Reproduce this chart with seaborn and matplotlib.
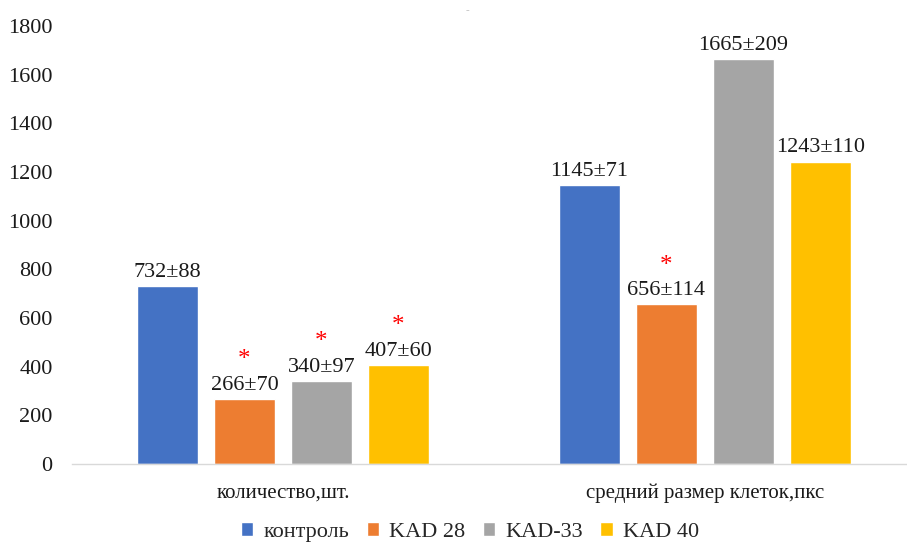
import pandas as pd
import matplotlib.pyplot as plt
import seaborn as sns

# data
categories = ['количество,шт.', 'средний размер клеток,пкс']
groups = ['контроль', 'KAD 28', 'KAD-33', 'KAD 40']
means = {
    'контроль': [732, 1145],
    'KAD 28': [266, 656],
    'KAD-33': [340, 1665],
    'KAD 40': [407, 1243],
}
errors = {
    'контроль': [88, 71],
    'KAD 28': [70, 114],
    'KAD-33': [97, 209],
    'KAD 40': [60, 110],
}
# significance marks (red asterisk above the label)
signif = {
    'контроль': [False, False],
    'KAD 28': [True, True],
    'KAD-33': [True, False],
    'KAD 40': [True, False],
}
colors = ['#4472C4', '#ED7D31', '#A5A5A5', '#FFC000']

rows = []
for g in groups:
    for i, c in enumerate(categories):
        rows.append({'param': c, 'group': g, 'value': means[g][i]})
df = pd.DataFrame(rows)

sns.set_theme(style='white')
plt.rcParams['font.family'] = ['Liberation Serif', 'DejaVu Serif']

fig = plt.figure(figsize=(9.07, 5.44), dpi=100)
ax = fig.add_axes([72 / 907, 80 / 544, 844 / 907, 438 / 544])

sns.barplot(data=df, x='param', y='value', hue='group', palette=colors,
            saturation=1, width=0.73, gap=0.22, ax=ax, legend=True)

# value labels and asterisks
for g, cont in zip(groups, ax.containers):
    for i, bar in enumerate(cont):
        x = bar.get_x() + bar.get_width() / 2
        h = bar.get_height()
        ax.annotate(f'{means[g][i]}±{errors[g][i]}', (x, h), xytext=(0, 3),
                    textcoords='offset points', ha='center', va='bottom',
                    fontsize=16, color='#1a1a1a')
        if signif[g][i]:
            ax.annotate('*', (x, h), xytext=(0, 20), textcoords='offset points',
                        ha='center', va='bottom', fontsize=18, color='red')

ax.set_ylim(0, 1800)
ax.set_xlim(-0.5, 1.5)
ax.set_yticks(range(0, 1801, 200))
ax.set_xlabel('')
ax.set_ylabel('')
ax.tick_params(axis='x', length=0, pad=14, labelsize=15, colors='#1a1a1a')
ax.tick_params(axis='y', length=0, pad=14, labelsize=16, colors='#1a1a1a')
for s in ['left', 'right', 'top']:
    ax.spines[s].set_visible(False)
ax.spines['bottom'].set_color('#d9d9d9')
ax.spines['bottom'].set_linewidth(1)

handles, labels = ax.get_legend_handles_labels()
ax.legend_.remove()
fig.legend(handles, labels, loc='center', bbox_to_anchor=(0.518, 0.022), ncol=4,
           frameon=False, fontsize=16, handlelength=0.55, handleheight=0.55,
           handletextpad=0.45, columnspacing=0.8)

fig.text(0.515, 0.975, '-', color='#bfbfbf', fontsize=8, ha='center')

plt.savefig('out.png', dpi=100)
